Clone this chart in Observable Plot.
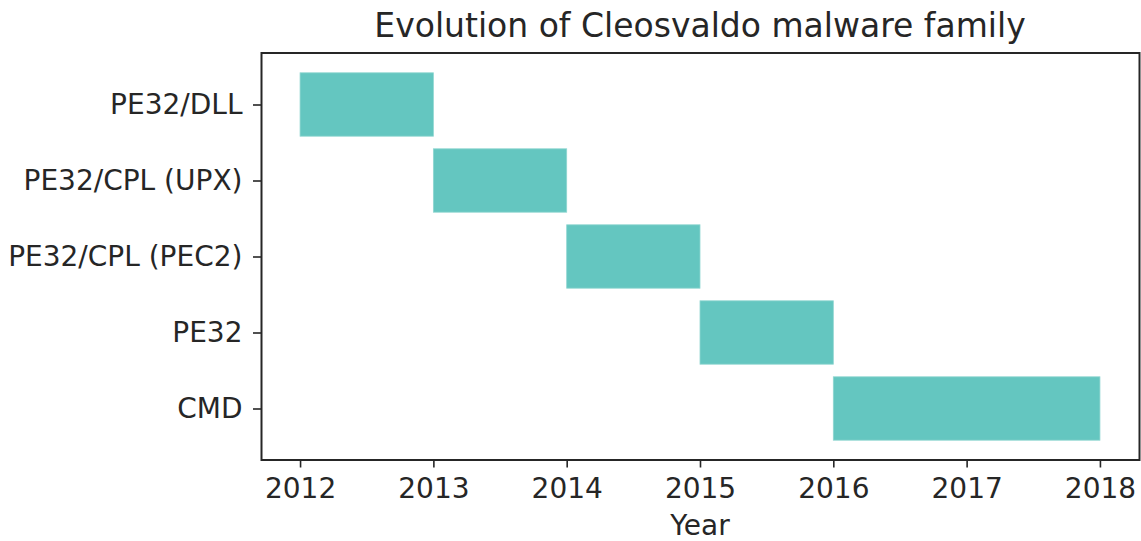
<!DOCTYPE html>
<html><head><meta charset="utf-8">
<script src="https://cdn.jsdelivr.net/npm/d3@7"></script>
<script src="https://cdn.jsdelivr.net/npm/@observablehq/plot@0.6"></script>
<style>
body{margin:0;background:#fff;font-family:"DejaVu Sans",sans-serif;}
#wrap{position:relative;width:1141px;height:541px;}
#title{position:absolute;left:261px;width:878px;top:0;height:44px;text-align:center;font-size:33px;line-height:52px;color:#262626;}
#chart{position:absolute;left:0;top:44px;}
#xlabel{position:absolute;left:261px;width:878px;top:511px;height:29px;text-align:center;font-size:28px;line-height:29px;color:#262626;}
</style></head>
<body><div id="wrap"><div id="title">Evolution of Cleosvaldo malware family</div><div id="chart"></div><div id="xlabel">Year</div></div>
<script>
const categories = ["PE32/DLL", "PE32/CPL (UPX)", "PE32/CPL (PEC2)", "PE32", "CMD"];
const startYears = [2012, 2013, 2014, 2015, 2016];
const endYears = [2013, 2014, 2015, 2016, 2018];
const yearTicks = [2012, 2013, 2014, 2015, 2016, 2017, 2018];

const data = categories.map((c, i) => ({cat: c, start: startYears[i], end: endYears[i]}));

const plot = Plot.plot({
  width: 1141,
  height: 466,
  marginLeft: 261,
  marginRight: 2,
  marginTop: 8.5,
  marginBottom: 50.5,
  style: {fontFamily: "DejaVu Sans, sans-serif", fontSize: "28px", color: "#262626", background: "#fff"},
  x: {domain: [2011.707, 2018.293], label: null},
  y: {domain: categories, padding: 0.2, paddingOuter: 0.243, label: null},
  marks: [
    Plot.barX(data, {x1: "start", x2: "end", y: "cat", fill: "#64C6C0", stroke: "#8fd6d1", strokeWidth: 0.8, insetTop: -1.2, insetBottom: -1.2}),
    Plot.axisX({ticks: yearTicks, tickFormat: d => String(d), tickSize: 8, tickPadding: 10, fontSize: 28, stroke: "#262626", strokeWidth: 1.6, label: null}),
    Plot.axisY({tickSize: 8, tickPadding: 11, fontSize: 28, stroke: "#262626", strokeWidth: 1.6, label: null}),
    Plot.frame({stroke: "#262626", strokeWidth: 2})
  ]
});
document.getElementById("chart").appendChild(plot);
</script>
</body></html>
